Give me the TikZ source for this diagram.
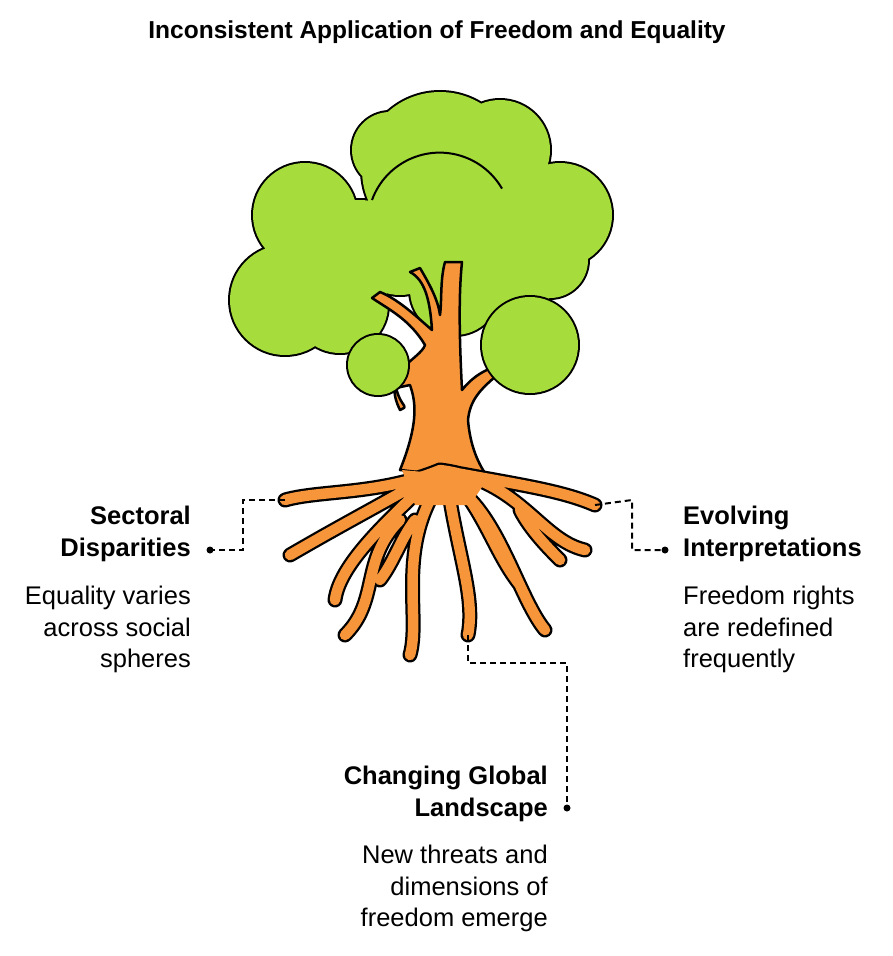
\documentclass[tikz,border=0pt]{standalone}
\usepackage{fontspec}
\setmainfont{Liberation Sans}
\begin{document}
\begin{tikzpicture}[x=1pt,y=-1pt,
  hdr/.style={font=\fontsize{25.5}{31.5}\selectfont\bfseries,inner sep=0pt},
  body/.style={font=\fontsize{25.5}{31.5}\selectfont,inner sep=0pt},
  conn/.style={draw=black,line width=2pt,dash pattern=on 6pt off 4pt},
  tip/.style={circle,fill=black,inner sep=0pt,minimum size=7pt},
  root/.style={line cap=round,line join=round}]
\definecolor{leaf}{HTML}{A6DC3C}
\definecolor{bark}{HTML}{F7953B}
\useasboundingbox (0,0) rectangle (892,956);
\fill[white] (0,0) rectangle (892,956);
\node[font=\fontsize{24.5}{28}\selectfont\bfseries] (title) at (437,32) {Inconsistent Application of Freedom and Equality};
% foliage
\def\blobs{(305,215) circle (52) (285,300) circle (55) (340,305) circle (48) (400,245) circle (50) (360,250) circle (50) (455,290) circle (45) (480,240) circle (50) (510,290) circle (40) (440,170) circle (78) (500,150) circle (50) (560,215) circle (52) (550,260) circle (38) (390,150) circle (38)}
\draw[line width=4pt] \blobs;
\fill[leaf] \blobs;
\draw[line width=2pt] (372,200) arc (200:330:72);
% trunk
\def\trunk{(400,470) .. controls (420,420) and (415,400) .. (410,385) -- (396,388)
 .. controls (402,410) and (410,405) .. (400,410) .. controls (380,370) and (420,360) .. (425,345)
 .. controls (410,320) and (390,310) .. (372,298) -- (380,292) .. controls (400,300) and (420,320) .. (432,330)
 .. controls (430,300) and (425,280) .. (410,272) -- (420,268) .. controls (430,285) and (438,300) .. (440,315)
 .. controls (442,300) and (440,280) .. (445,262) -- (462,262) .. controls (458,300) and (460,350) .. (462,390)
 .. controls (470,380) and (480,372) .. (492,368) -- (496,376) .. controls (480,390) and (470,400) .. (468,420)
 .. controls (470,445) and (478,465) .. (490,480) -- cycle}
\draw[line width=2.5pt,fill=bark,line join=round] \trunk;
% small blobs in front
\def\sblobs{(378,365) circle (30) (530,345) circle (48)}
\draw[line width=4pt] \sblobs;
\fill[leaf] \sblobs;
% roots
\coordinate (r0) at (440,470);
\coordinate (rL1) at (285,500);
\coordinate (rL2) at (290,555);
\coordinate (rL3) at (335,600);
\coordinate (rL4) at (345,635);
\coordinate (rL5) at (410,655);
\coordinate (rB) at (468,635);
\coordinate (rR1) at (545,630);
\coordinate (rR2) at (585,550);
\coordinate (rR3) at (595,505);
\coordinate (rR4) at (520,585);
\def\roots{%
 (r0) .. controls (380,495) and (320,490) .. (rL1)
 (r0) .. controls (390,500) and (350,520) .. (rL2)
 (r0) .. controls (400,510) and (340,560) .. (rL3)
 (400,520) .. controls (360,560) and (380,600) .. (rL4)
 (430,500) .. controls (400,560) and (420,620) .. (rL5)
 (450,500) .. controls (460,560) and (475,600) .. (rB)
 (460,490) .. controls (500,520) and (520,600) .. (rR1)
 (r0) .. controls (520,480) and (540,540) .. (rR2)
 (r0) .. controls (520,485) and (560,490) .. (rR3)
 (470,500) .. controls (490,530) and (500,560) .. (rR4)
 (415,520) .. controls (400,540) and (395,560) .. (380,580)
 (520,510) .. controls (530,530) and (550,550) .. (560,560)}
\draw[root,line width=15pt] \roots;
\draw[root,line width=10.5pt,bark] \roots;
\fill[bark] (402,470) -- (488,478) -- (470,505) -- (415,505) -- cycle;
% texts
\node[hdr,align=right,anchor=north east] (lh) at (191,506) {Sectoral\\Disparities};
\node[body,align=right,anchor=north east] (lb) at (191,586) {Equality varies\\across social\\spheres};
\node[hdr,align=left,anchor=north west] (rh) at (683,506) {Evolving\\Interpretations};
\node[body,align=left,anchor=north west] (rb) at (683,586) {Freedom rights\\are redefined\\frequently};
\node[hdr,align=right,anchor=north east] (bh) at (548,766) {Changing Global\\Landscape};
\node[body,align=right,anchor=north east] (bb) at (548,845) {New threats and\\dimensions of\\freedom emerge};
% connectors
\coordinate (le) at (210,550);
\coordinate (re) at (665,550);
\coordinate (be) at (567,808);
\draw[conn] (rL1) -- (243,500) -- (243,550) -- (le);
\node[tip] (lt) at (le) {};
\draw[conn] (rR3) -- (632,500) -- (632,550) -- (re);
\node[tip] (rt) at (re) {};
\draw[conn] (rB) -- (468,663) -- (567,663) -- (be);
\node[tip] (bt) at (be) {};
\end{tikzpicture}
\end{document}
